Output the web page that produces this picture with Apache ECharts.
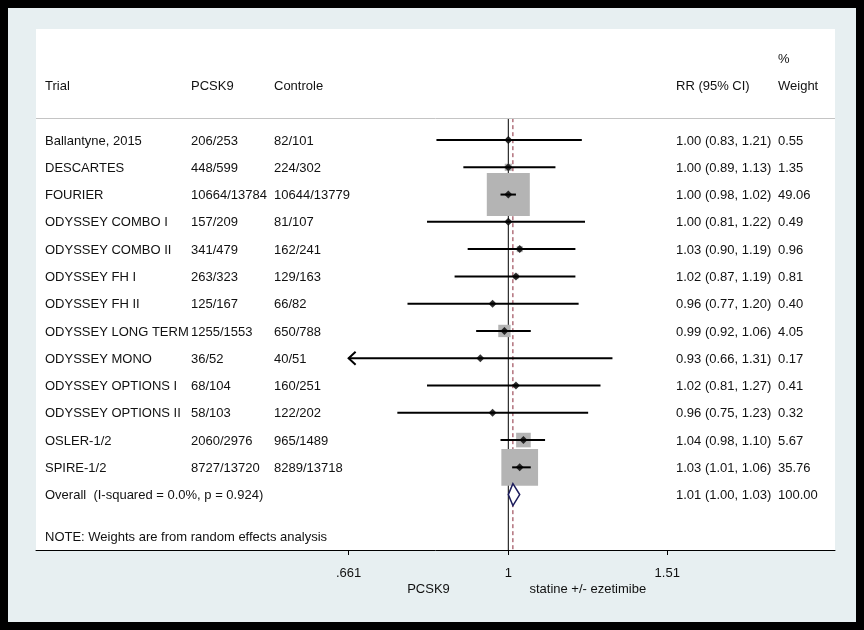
<!DOCTYPE html>
<html><head><meta charset="utf-8">
<script src="https://cdn.jsdelivr.net/npm/echarts@6/dist/echarts.min.js"></script>
<style>
html,body{margin:0;padding:0;background:#000;}
#wrap{position:absolute;left:0;top:0;width:864px;height:630px;background:#000;}
#chart{position:absolute;left:8px;top:8px;width:848px;height:614px;}
</style></head><body>
<div id="wrap"><div id="chart"></div></div>
<script>
// ---------------- data ----------------
const trials = ['Ballantyne, 2015','DESCARTES','FOURIER','ODYSSEY COMBO I','ODYSSEY COMBO II','ODYSSEY FH I','ODYSSEY FH II','ODYSSEY LONG TERM','ODYSSEY MONO','ODYSSEY OPTIONS I','ODYSSEY OPTIONS II','OSLER-1/2','SPIRE-1/2'];
const pcsk9 = ['206/253','448/599','10664/13784','157/209','341/479','263/323','125/167','1255/1553','36/52','68/104','58/103','2060/2976','8727/13720'];
const controle = ['82/101','224/302','10644/13779','81/107','162/241','129/163','66/82','650/788','40/51','160/251','122/202','965/1489','8289/13718'];
const rr = [1.00,1.00,1.00,1.00,1.03,1.02,0.96,0.99,0.93,1.02,0.96,1.04,1.03];
const ciLow = [0.83,0.89,0.98,0.81,0.90,0.87,0.77,0.92,0.66,0.81,0.75,0.98,1.01];
const ciHigh = [1.21,1.13,1.02,1.22,1.19,1.19,1.20,1.06,1.31,1.27,1.23,1.10,1.06];
const weight = [0.55,1.35,49.06,0.49,0.96,0.81,0.40,4.05,0.17,0.41,0.32,5.67,35.76];
const overallLabel = 'Overall  (I-squared = 0.0%, p = 0.924)';
const overallEst = 1.012, overallLow = 1.00, overallHigh = 1.03, overallWeight = 100.00;
const headers = ['Trial','PCSK9','Controle','RR (95% CI)','Weight'];
const weightHeaderTop = '%';
const noteText = 'NOTE: Weights are from random effects analysis';
const tickValues = [0.661, 1, 1.51];
const tickLabels = ['.661', '1', '1.51'];
const sideLabels = ['PCSK9', 'statine +/- ezetimibe'];

// ---------------- layout ----------------
const FONT = '"Liberation Sans", Arial, Helvetica, sans-serif';
const TXT = '#111111';
const ln = Math.log;
const X_MIN = -1.2245, X_MAX = 0.847;
const Y_MIN = -4.069, Y_MAX = 15.03;
const pctRow = -3, headerRow = -2, sepRow = -0.8, noteRow = 14.55;
const overallRow = trials.length;
const f2 = v => v.toFixed(2);

const labelValues = [pctRow, headerRow];
const labelTexts = [
  `{pct|${weightHeaderTop}}`,
  `{n|${headers[0]}}{p|${headers[1]}}{c|${headers[2]}}{r|${headers[3]}}{w|${headers[4]}}`
];
trials.forEach((t, i) => {
  labelValues.push(i);
  labelTexts.push(`{n|${t}}{p|${pcsk9[i]}}{c|${controle[i]}}{r|${f2(rr[i])} (${f2(ciLow[i])}, ${f2(ciHigh[i])})}{w|${f2(weight[i])}}`);
});
labelValues.push(overallRow);
labelTexts.push(`{o|${overallLabel}}{r|${f2(overallEst)} (${f2(overallLow)}, ${f2(overallHigh)})}{w|${f2(overallWeight)}}`);
labelValues.push(noteRow);
labelTexts.push(`{note|${noteText}}`);

function nearestIdx(arr, v) {
  let b = 0;
  for (let i = 1; i < arr.length; i++) if (Math.abs(arr[i] - v) < Math.abs(arr[b] - v)) b = i;
  return b;
}
const baseTxt = {fontSize: 13, fontFamily: FONT, color: TXT};
const tickLn = tickValues.map(v => ln(v));
const sideLn = [ln(tickValues[0]) / 2, ln(tickValues[tickValues.length - 1]) / 2];
const clipLo = ln(tickValues[0]), clipHi = ln(tickValues[tickValues.length - 1]);

const chart = echarts.init(document.getElementById('chart'));
chart.setOption({
  animation: false,
  backgroundColor: '#e7eff1',
  grid: {left: 28, top: 21, right: 21, bottom: 72, show: true, backgroundColor: '#ffffff', borderWidth: 0},
  xAxis: [{
    type: 'value', min: X_MIN, max: X_MAX, position: 'bottom',
    axisLine: {show: true, onZero: false, lineStyle: {color: '#000', width: 1}},
    axisTick: {show: true, customValues: tickLn, length: 5, lineStyle: {color: '#000', width: 1}},
    axisLabel: {customValues: tickLn, margin: 17, ...baseTxt,
      formatter: v => tickLabels[nearestIdx(tickLn, v)]},
    splitLine: {show: false}
  }, {
    type: 'value', min: X_MIN, max: X_MAX, position: 'bottom',
    axisLine: {show: false, onZero: false}, axisTick: {show: false},
    axisLabel: {customValues: sideLn, margin: 33, ...baseTxt,
      formatter: v => sideLabels[nearestIdx(sideLn, v)]},
    splitLine: {show: false}
  }],
  yAxis: {
    type: 'value', inverse: true, min: Y_MIN, max: Y_MAX,
    axisLine: {show: false, onZero: false}, axisTick: {show: false}, splitLine: {show: false},
    axisLabel: {
      inside: true, margin: 9, align: 'left', customValues: labelValues,
      padding: [2, 0, 0, 0],
      formatter: v => labelTexts[nearestIdx(labelValues, v)],
      rich: {
        n: {...baseTxt, width: 146},
        p: {...baseTxt, width: 83},
        c: {...baseTxt, width: 402},
        r: {...baseTxt, width: 102},
        w: {...baseTxt},
        o: {...baseTxt, width: 631},
        pct: {...baseTxt, padding: [0, 0, 0, 733]},
        note: {...baseTxt}
      }
    }
  },
  series: [
    {
      name: 'refLines', type: 'custom', silent: true,
      data: [[0, 0], [ln(overallEst), 1]],
      renderItem: (params, api) => {
        const x = api.value(0), dashed = api.value(1) === 1;
        const a = api.coord([x, sepRow]), b = api.coord([x, Y_MAX]);
        return {type: 'line', shape: {x1: a[0], y1: a[1], x2: b[0], y2: b[1]},
          style: {stroke: dashed ? '#8b2a3a' : '#000', lineWidth: 1, lineDash: dashed ? [4, 3] : null}};
      },
      markLine: {silent: true, symbol: 'none', label: {show: false},
        lineStyle: {color: '#c4c4c4', width: 1, type: 'solid'},
        data: [{yAxis: sepRow}]}
    },
    {
      name: 'weights', type: 'custom', silent: true,
      data: trials.map((t, i) => [ln(rr[i]), i, weight[i]]),
      renderItem: (params, api) => {
        const c = api.coord([api.value(0), api.value(1)]);
        const s = 6.14 * Math.sqrt(api.value(2));
        return {type: 'rect', shape: {x: c[0] - s / 2, y: c[1] - s / 2, width: s, height: s},
          style: {fill: '#b4b4b4'}};
      }
    },
    {
      name: 'ci', type: 'custom', silent: true,
      data: trials.map((t, i) => [ln(ciLow[i]), ln(ciHigh[i]), i]),
      renderItem: (params, api) => {
        const lo = api.value(0), hi = api.value(1), y = api.value(2);
        const l = api.coord([Math.max(lo, clipLo), y]);
        const r = api.coord([Math.min(hi, clipHi), y]);
        const children = [{type: 'line', shape: {x1: l[0], y1: l[1], x2: r[0], y2: r[1]},
          style: {stroke: '#000', lineWidth: 2}}];
        if (lo < clipLo) children.push({type: 'polyline',
          shape: {points: [[l[0] + 7, l[1] - 6.5], [l[0], l[1]], [l[0] + 7, l[1] + 6.5]]},
          style: {stroke: '#000', lineWidth: 2, fill: null}});
        if (hi > clipHi) children.push({type: 'polyline',
          shape: {points: [[r[0] - 7, r[1] - 6.5], [r[0], r[1]], [r[0] - 7, r[1] + 6.5]]},
          style: {stroke: '#000', lineWidth: 2, fill: null}});
        return {type: 'group', children};
      }
    },
    {
      name: 'estimates', type: 'scatter', silent: true,
      symbol: 'diamond', symbolSize: 8, itemStyle: {color: '#000'},
      data: trials.map((t, i) => [ln(rr[i]), i])
    },
    {
      name: 'overall', type: 'custom', silent: true,
      data: [[ln(overallLow), ln(overallEst), ln(overallHigh), overallRow]],
      renderItem: (params, api) => {
        const y = api.value(3);
        const a = api.coord([api.value(0), y]), m = api.coord([api.value(1), y]), b = api.coord([api.value(2), y]);
        const h = 11;
        return {type: 'polygon', shape: {points: [[a[0], a[1]], [m[0], m[1] - h], [b[0], b[1]], [m[0], m[1] + h]]},
          style: {fill: '#ffffff', stroke: '#1c1c5c', lineWidth: 1.5}};
      }
    }
  ]
});
</script>
</body></html>
